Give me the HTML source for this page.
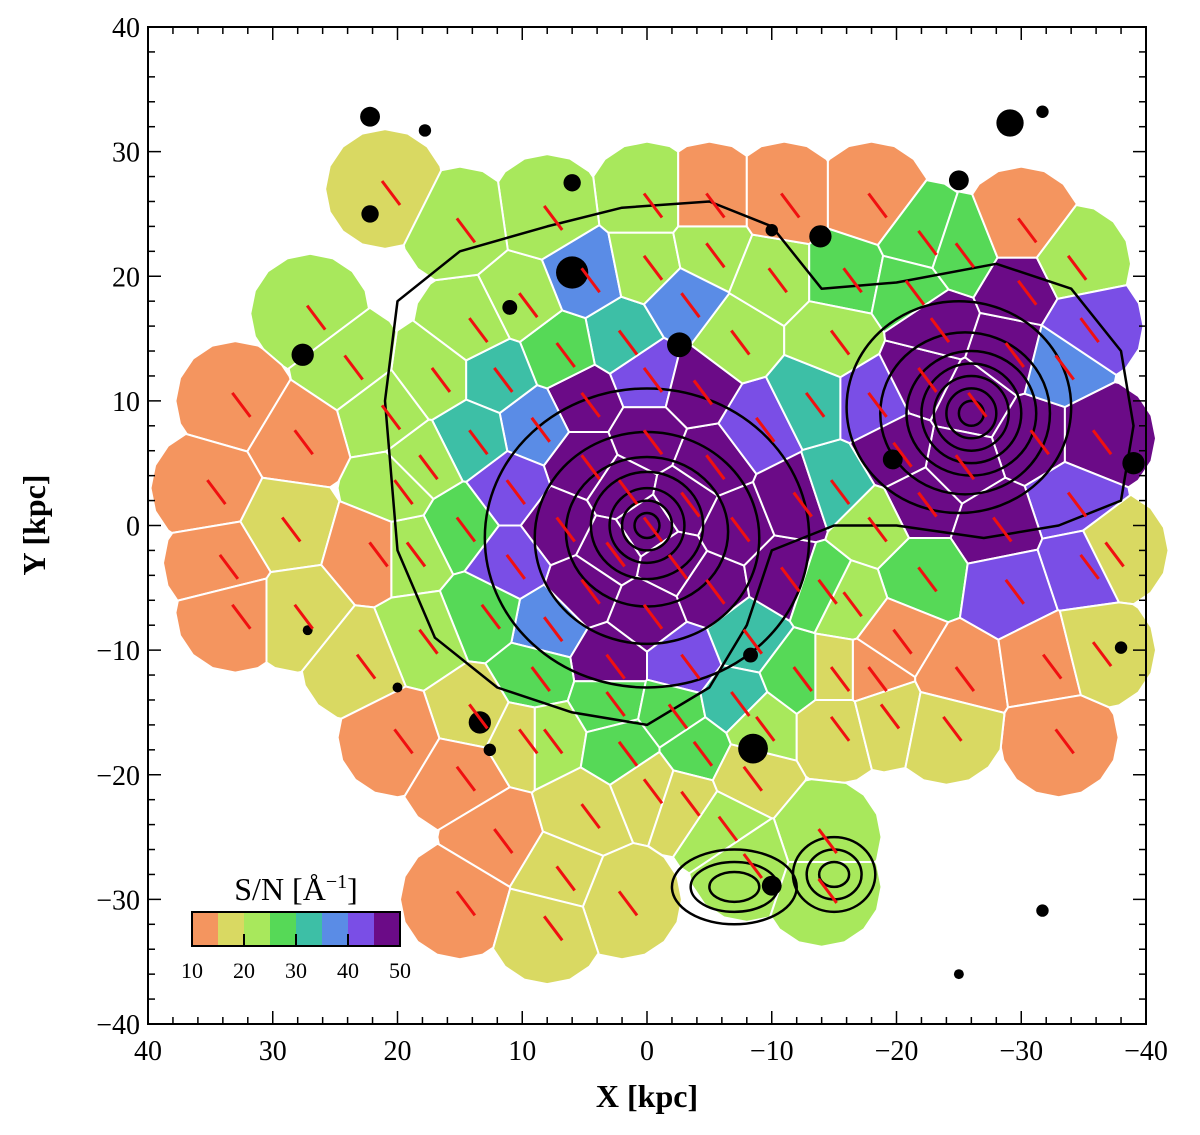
<!DOCTYPE html>
<html><head><meta charset="utf-8"><style>
body{margin:0;background:#fff;}
svg text{font-family:"Liberation Serif",serif;}
</style></head><body>
<svg id="chart" width="1200" height="1130" viewBox="0 0 1200 1130" xmlns="http://www.w3.org/2000/svg">
<g id="cells"></g>
<g id="contours"></g>
<g id="dashes"></g>
<g id="axes"></g>
<g id="cbar"></g>
</svg>
<script>
const seedX=[0,2,-3,-2,3, 0,5,7,5,0,-5,-7,-5, 0,5,9,11,11,8,3,-3,-8,-11,-12,-9,-4,
2,7,12,14,15,13,9,3,-2,-7,-12,-14,-15,-13,-7,-3,
5,0,-5,-10,10,14,17,18,19,18,14,8,2,-4,-9,-15,-18,
0,-5,-11,-18,-22,8,15,21,
27,24,21,20,33,28,35,34,29,22,28,33,23,
20,15,10,12,5,0,-3,-8,7,2,15,8,
-6,-14,
-26,-22,-29,-31,-25,-20,-23,-30,-33,-36,-34,-28,-22,-18,
-16,-21,-25,-30,-34,-15,-35,
-18,-22,-29,-35,-37,-16,
-20,-25,-32,-33,-19,-24,-15,-36,
-8,-14];
const seedY=[0,3,2,-3,-2, 7,5,0,-5,-7,-5,0,5, 12,10,8,3,-3,-8,-11,-11,-9,-4,2,8,11,
15,14,12,7,0,-7,-12,-14,-15,-14,-12,-5,3,10,15,18,
20,21,22,20,18,16,12,5,-2,-9,-15,-17,-18,-18,-16,-16,-12,
26,26,26,26,23,25,24,27,
17,13,9,3,10,7,3,-3,0,-2,-7,-7,-11,
-17,-20,-17,-25,-23,-21,-22,-20,-28,-30,-30,-32,
-24,-25,
10,12,14,7,5,6,16,19,13,7,2,0,2,10,
20,19,22,24,21,15,16,
0,-4,-5,-3,-2,-6,
-9,-12,-11,-17,-15,-16,-12,-10,
-27,-29];
const seedSN=[50,50,50,50,50, 50,50,45,48,50,50,50,50, 42,47,35,42,40,38,48,40,30,48,48,42,48,
32,28,33,30,25,27,28,27,26,30,27,25,30,33,24,35,
37,24,23,22,23,24,20,22,20,20,18,22,27,27,22,19,12,
24,14,13,13,28,22,22,17,
23,23,22,22,13,12,12,12,18,13,18,13,18,
13,13,18,13,15,18,18,17,18,18,13,17,
22,22,
50,50,50,50,50,50,50,48,38,45,43,48,48,42,
28,28,28,13,23,22,40,
22,28,43,43,18,22,
12,12,12,12,18,18,17,18,
22,22];
const cbTicks=[10,20,30,40,50];
const xTicks=[40,30,20,10,0,-10,-20,-30,-40];
const yTicks=[40,30,20,10,0,-10,-20,-30,-40];
const colors=["#f4955f","#d9d962","#a8e85c","#56d957","#3dbfa6","#5a8ce6","#7a4ee6","#6b0b87"];
const L=148,R=1146,T=27,B=1024;
const sx=X=>L+(40-X)*(R-L)/80, sy=Y=>T+(40-Y)*(B-T)/80;
const NS="http://www.w3.org/2000/svg";
function mk(tag,attrs,parent){const e=document.createElementNS(NS,tag);for(const k in attrs)e.setAttribute(k,attrs[k]);parent.appendChild(e);return e;}
function col(v){let i=Math.floor((v-10)/5);return colors[Math.max(0,Math.min(7,i))];}
const cells=document.getElementById('cells');
const Rad=4.8;
for(let i=0;i<seedX.length;i++){
  let poly=[];
  for(let k=0;k<16;k++){const a=k/16*2*Math.PI;poly.push([seedX[i]+Rad*Math.cos(a),seedY[i]+Rad*Math.sin(a)]);}
  for(let j=0;j<seedX.length;j++){
    if(j===i)continue;
    const dx=seedX[j]-seedX[i],dy=seedY[j]-seedY[i];
    if(dx*dx+dy*dy>4*Rad*Rad)continue;
    const mx=(seedX[i]+seedX[j])/2,my=(seedY[i]+seedY[j])/2;
    const f=p=>(p[0]-mx)*dx+(p[1]-my)*dy;
    const out=[];
    for(let k=0;k<poly.length;k++){
      const a=poly[k],b=poly[(k+1)%poly.length],fa=f(a),fb=f(b);
      if(fa<=0)out.push(a);
      if((fa<0&&fb>0)||(fa>0&&fb<0)){const t=fa/(fa-fb);out.push([a[0]+t*(b[0]-a[0]),a[1]+t*(b[1]-a[1])]);}
    }
    poly=out;
  }
  const p=mk('polygon',{points:poly.map(q=>sx(q[0]).toFixed(1)+','+sy(q[1]).toFixed(1)).join(' '),fill:col(seedSN[i]),stroke:'#fff','stroke-width':2},cells);
  
  
}
const cg=document.getElementById('contours');
const ell=[[0,0,1,1],[0,0,2,2],[0,0,3,3],[0,0,4.5,4.3],[0,-0.5,6.5,6],[0,-1,9,8.5],[0,-1,13,12],
[-26,9,1,1],[-26,9,2,2],[-26,9,3,3],[-26,9,4,4],[-26,9,5.2,5],[-25.5,9,6.8,6.5],[-25,9.5,9,8.5],
[-7,-29,2,1.2],[-7,-29,3.5,2],[-7,-29,5,3],[-15,-28,1.2,1],[-15,-28,2.2,2],[-15,-28,3.3,3]];
ell.forEach(e=>{const c=mk('ellipse',{cx:sx(e[0]),cy:sy(e[1]),rx:e[2]*12.475,ry:e[3]*12.46,fill:'none',stroke:'#000','stroke-width':2.5},cg);
});
const outer=[[21,10],[20,18],[15,22],[8,24],[2,25.5],[-5,26],[-10,24],[-14,19],[-20,19.5],[-28,21],[-34,19],[-38,14],[-39,8],[-38,2],[-33,0],[-27,-1],[-20,0],[-15,0],[-10,-2],[-8,-8],[-5,-13],[0,-16],[6,-15],[12,-13],[17,-9],[20,-2]];
const op=mk('polygon',{points:outer.map(q=>sx(q[0]).toFixed(1)+','+sy(q[1]).toFixed(1)).join(' '),fill:'none',stroke:'#000','stroke-width':2.5,'stroke-linejoin':'round'},cg);

const stars=[[22.2,32.8,0.8],[17.8,31.7,0.5],[-29.1,32.3,1.1],[-31.7,33.2,0.5],[-25,27.7,0.8],[-13.9,23.2,0.9],[-10,23.7,0.5],[6,20.3,1.3],[27.6,13.7,0.9],[22.2,25,0.7],[6,27.5,0.7],[-2.6,14.5,1.0],[-19.7,5.3,0.8],[-39,5,0.9],[-8.3,-10.4,0.6],[-8.5,-17.9,1.2],[13.4,-15.8,0.9],[12.6,-18,0.5],[-10,-28.9,0.8],[-31.7,-30.9,0.5],[-25,-36,0.4],[-38,-9.8,0.5],[27.2,-8.4,0.4],[11,17.5,0.6],[20,-13,0.4]];
stars.forEach(s=>{const c=mk('circle',{cx:sx(s[0]),cy:sy(s[1]),r:s[2]*12.4,fill:'#000'},cg);
});
const dg=document.getElementById('dashes');
for(let i=0;i<seedX.length;i++){
  const x=sx(seedX[i])+6,y=sy(seedY[i])+4;
  const l=mk('line',{x1:x-9,y1:y-12,x2:x+9,y2:y+12,stroke:'#f01010','stroke-width':3},dg);
  
}
const ax=document.getElementById('axes');
const fr=mk('rect',{x:L,y:T,width:R-L,height:B-T,fill:'none',stroke:'#000','stroke-width':2},ax);

for(let v=-40;v<=40;v+=2){
  const major=v%10===0, len=major?13:7;
  const x=sx(v),y=sy(v);
  mk('line',{x1:x,y1:B,x2:x,y2:B-len,stroke:'#000','stroke-width':1.5},ax);
  mk('line',{x1:x,y1:T,x2:x,y2:T+len,stroke:'#000','stroke-width':1.5},ax);
  mk('line',{x1:L,y1:y,x2:L+len,y2:y,stroke:'#000','stroke-width':1.5},ax);
  mk('line',{x1:R,y1:y,x2:R-len,y2:y,stroke:'#000','stroke-width':1.5},ax);
}
xTicks.forEach(v=>{const t=mk('text',{x:sx(v),y:1060,'text-anchor':'middle','font-size':28},ax);t.textContent=v<0?'\u2212'+(-v):v;
});
yTicks.forEach(v=>{const t=mk('text',{x:140,y:sy(v)+10,'text-anchor':'end','font-size':28},ax);t.textContent=v<0?'\u2212'+(-v):v;
});
let t=mk('text',{x:647,y:1107,'text-anchor':'middle','font-size':32,'font-weight':'bold'},ax);t.textContent='X [kpc]';

t=mk('text',{x:0,y:0,'text-anchor':'middle','font-size':32,'font-weight':'bold',transform:'translate(45,525) rotate(-90)'},ax);t.textContent='Y [kpc]';

const cb=document.getElementById('cbar');
const cx0=192,cx1=400,cy0=912,cy1=946;
colors.forEach((c,i)=>{const r=mk('rect',{x:cx0+i*(cx1-cx0)/8,y:cy0,width:(cx1-cx0)/8+0.5,height:cy1-cy0,fill:c},cb);
});
mk('rect',{x:cx0,y:cy0,width:cx1-cx0,height:cy1-cy0,fill:'none',stroke:'#000','stroke-width':2},cb);
for(let i=1;i<8;i++){const x=cx0+i*(cx1-cx0)/8;mk('line',{x1:x,y1:cy1,x2:x,y2:cy1-(i%2===0?12:0),stroke:'#000','stroke-width':2},cb);}
cbTicks.forEach(v=>{const t=mk('text',{x:cx0+(v-10)/40*(cx1-cx0),y:978,'text-anchor':'middle','font-size':22},cb);t.textContent=v;
});
t=mk('text',{x:296,y:900,'text-anchor':'middle','font-size':32},cb);t.innerHTML='S/N [Å<tspan dy="-12" font-size="20">\u22121</tspan><tspan dy="12">]</tspan>';

</script>
</body></html>
